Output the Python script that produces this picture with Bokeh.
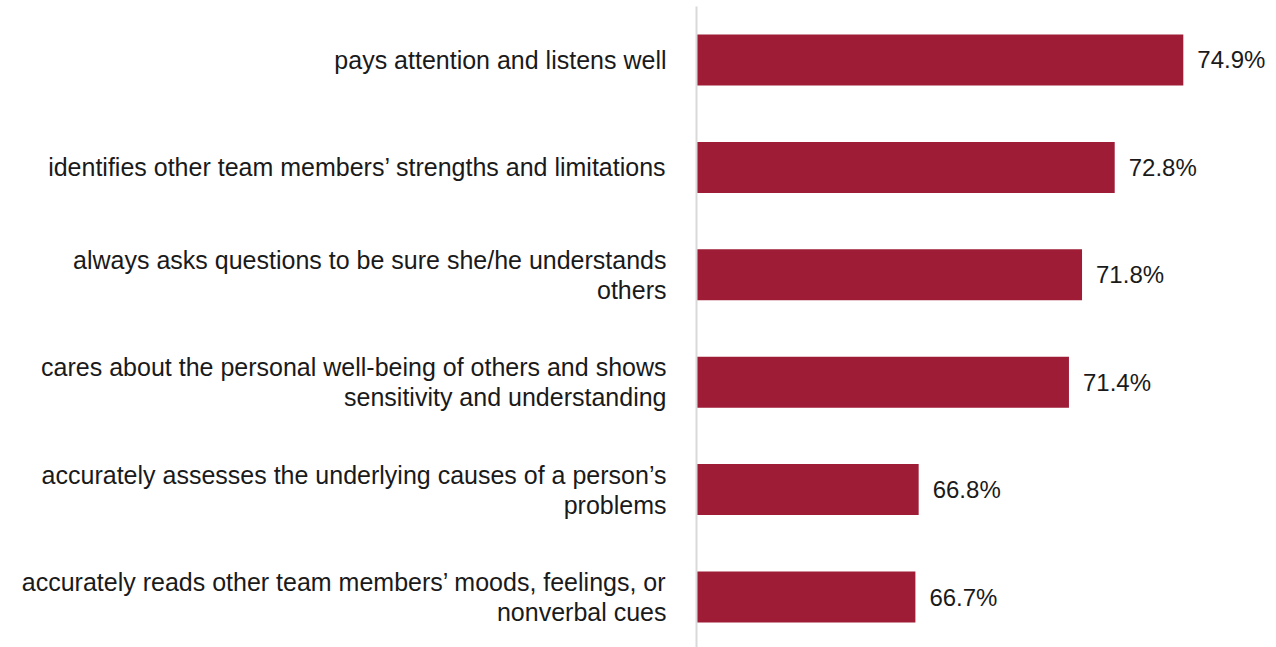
from bokeh.plotting import figure
from bokeh.models import Range1d, FixedTicker
from bokeh.embed import file_html
from bokeh.resources import INLINE
from bokeh.core.properties import value

categories = [
    "pays attention and listens well",
    "identifies other team members\u2019 strengths and limitations",
    "always asks questions to be sure she/he understands\nothers",
    "cares about the personal well-being of others and shows\nsensitivity and understanding",
    "accurately assesses the underlying causes of a person\u2019s\nproblems",
    "accurately reads other team members\u2019 moods, feelings, or\nnonverbal cues",
]
values = [74.9, 72.8, 71.8, 71.4, 66.8, 66.7]
value_labels = [f"{v:.1f}%" for v in values]
positions = list(range(len(categories)))

BAR = "#9E1C36"
TEXT = "#1a1a1a"
FONT = "Liberation Sans"

p = figure(
    width=1272, height=647,
    output_backend="svg", toolbar_location=None,
    x_range=Range1d(60, 77.63),
    y_range=Range1d(5.470, -0.498),
    min_border_left=696, min_border_right=0,
    min_border_top=6, min_border_bottom=0,
)
p.outline_line_color = None
p.xgrid.visible = False
p.ygrid.visible = False
p.xaxis.visible = False

p.hbar(y=positions, left=60, right=values, height=0.475,
       fill_color=BAR, line_color=None)

p.text(x=values, y=positions, text=value_labels, x_offset=14,
       text_baseline="middle", text_align="left",
       text_font=value(FONT), text_font_size="24px", text_color=TEXT)

ax = p.yaxis[0]
ax.ticker = FixedTicker(ticks=positions)
ax.major_label_overrides = {i: c for i, c in zip(positions, categories)}
ax.major_tick_line_color = None
ax.minor_tick_line_color = None
ax.axis_line_color = "#d9d9d9"
ax.axis_line_width = 2
ax.major_label_standoff = 24
ax.major_label_text_font = FONT
ax.major_label_text_font_size = "25px"
ax.major_label_text_color = TEXT
ax.major_label_text_line_height = 1.07

open("out.html", "w").write(file_html(p, INLINE))
